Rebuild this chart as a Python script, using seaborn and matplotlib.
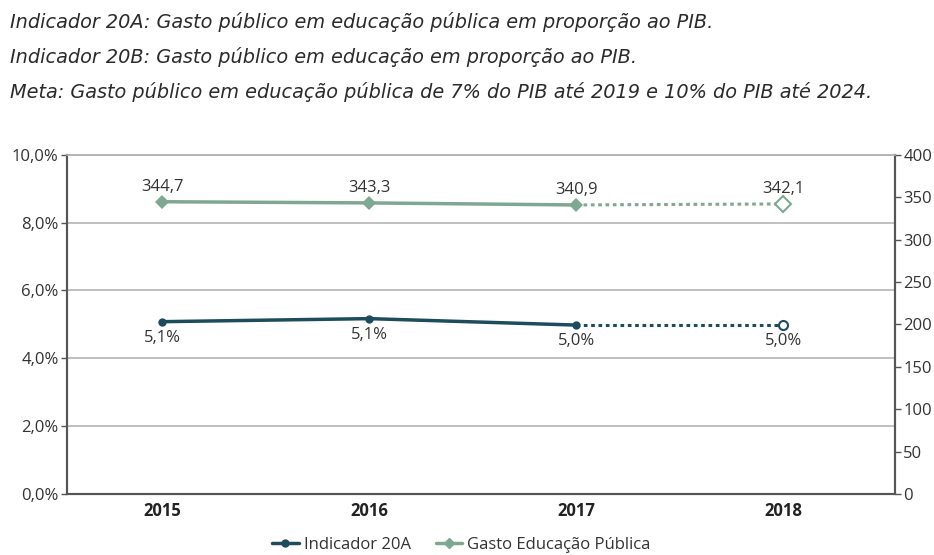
import pandas as pd
import matplotlib.pyplot as plt
import matplotlib.ticker as mticker
from matplotlib.lines import Line2D
import seaborn as sns

# Dados
anos = ["2015", "2016", "2017", "2018"]
indicador_20a = [5.08, 5.17, 4.98, 4.98]
rotulos_20a = ["5,1%", "5,1%", "5,0%", "5,0%"]
gasto_publico = [344.7, 343.3, 340.9, 342.1]
rotulos_gasto = ["344,7", "343,3", "340,9", "342,1"]

titulos = [
    "Indicador 20A: Gasto público em educação pública em proporção ao PIB.",
    "Indicador 20B: Gasto público em educação em proporção ao PIB.",
    "Meta: Gasto público em educação pública de 7% do PIB até 2019 e 10% do PIB até 2024.",
]

COR_AZUL = "#1d4d5c"
COR_VERDE = "#7fa892"
COR_TEXTO = "#333333"
FS = 12

sns.set_theme(style="white")
plt.rcParams["font.family"] = ["Open Sans", "DejaVu Sans"]

df = pd.DataFrame({"x": range(len(anos)), "ano": anos,
                   "ind": indicador_20a, "gasto": gasto_publico})
real = df.iloc[:3]
proj = df.iloc[2:]

fig = plt.figure(figsize=(9.34, 5.55), dpi=100)
ax = fig.add_axes([0.0717, 0.110, 0.8865, 0.611])
ax2 = ax.twinx()

# Indicador 20A (eixo esquerdo)
sns.lineplot(data=real, x="x", y="ind", ax=ax, color=COR_AZUL, lw=2.5,
             marker="o", markersize=6, markeredgewidth=0)
sns.lineplot(data=proj, x="x", y="ind", ax=ax, color=COR_AZUL, lw=2.2,
             linestyle=(0, (1.2, 1.2)))
ax.plot(proj["x"].iloc[-1], proj["ind"].iloc[-1], marker="o", ms=6.5,
        mfc="white", mec=COR_AZUL, mew=1.5, zorder=5)

# Gasto Educação Pública (eixo direito)
sns.lineplot(data=real, x="x", y="gasto", ax=ax2, color=COR_VERDE, lw=2.5,
             marker="D", markersize=7, markeredgewidth=0)
sns.lineplot(data=proj, x="x", y="gasto", ax=ax2, color=COR_VERDE, lw=2.2,
             linestyle=(0, (1.2, 1.2)))
ax2.plot(proj["x"].iloc[-1], proj["gasto"].iloc[-1], marker="D", ms=8,
         mfc="white", mec=COR_VERDE, mew=1.5, zorder=5)

for i, (v, r) in enumerate(zip(indicador_20a, rotulos_20a)):
    ax.annotate(r, (i, v), xytext=(0, -6), textcoords="offset points",
                ha="center", va="top", fontsize=FS, color=COR_TEXTO)
for i, (v, r) in enumerate(zip(gasto_publico, rotulos_gasto)):
    ax2.annotate(r, (i, v), xytext=(0, 5), textcoords="offset points",
                 ha="center", va="bottom", fontsize=FS, color=COR_TEXTO)

# Eixos
ax.set_xlim(-0.46, 3.54)
ax.set_ylim(0, 10)
ax2.set_ylim(0, 400)
ax.set_yticks([0, 2, 4, 6, 8, 10])
ax.yaxis.set_major_formatter(mticker.FuncFormatter(lambda v, p: f"{v:.1f}%".replace(".", ",")))
ax2.set_yticks(range(0, 401, 50))
ax.set_xticks(range(len(anos)))
ax.set_xticklabels(anos, fontweight="bold", fontsize=FS, color="#222222")
ax.set_xticks([0.5, 1.5, 2.5], minor=True)
ax.tick_params(axis="x", which="major", length=0, pad=6)
ax.tick_params(axis="x", which="minor", length=4, width=1, color="#555555", direction="out")
ax.tick_params(axis="y", length=4, width=1, color="#555555", direction="out",
               labelsize=FS, labelcolor=COR_TEXTO, pad=2)
ax2.tick_params(axis="y", length=4, width=1, color="#555555", direction="out",
                labelsize=FS, labelcolor=COR_TEXTO, pad=2)
ax.set_xlabel("")
ax.set_ylabel("")
ax2.set_ylabel("")
ax.grid(axis="y", color="#b5b5b5", lw=1.2)
ax.set_axisbelow(True)

for a in (ax, ax2):
    a.spines["top"].set_color("#b5b5b5")
    a.spines["top"].set_linewidth(1.2)
    for s in ("left", "right", "bottom"):
        a.spines[s].set_color("#555555")
        a.spines[s].set_linewidth(1.5)

# Legenda
handles = [
    Line2D([], [], color=COR_AZUL, lw=2.5, marker="o", ms=5),
    Line2D([], [], color=COR_VERDE, lw=2.5, marker="D", ms=5),
]
fig.legend(handles, ["Indicador 20A", "Gasto Educação Pública"],
           loc="center", bbox_to_anchor=(0.494, 0.018), ncol=2, frameon=False,
           fontsize=FS, handlelength=1.6, columnspacing=1.5, handletextpad=0.3,
           labelcolor=COR_TEXTO)

# Textos de cabeçalho
for k, t in enumerate(titulos):
    fig.text(0.011, 1 - (22 + 35 * k) / 555, t, fontsize=13.9, style="italic",
             family=["DejaVu Sans"],
             color="#2b2b2b", ha="left", va="center")

plt.savefig("out.png", dpi=100)
plt.close()
